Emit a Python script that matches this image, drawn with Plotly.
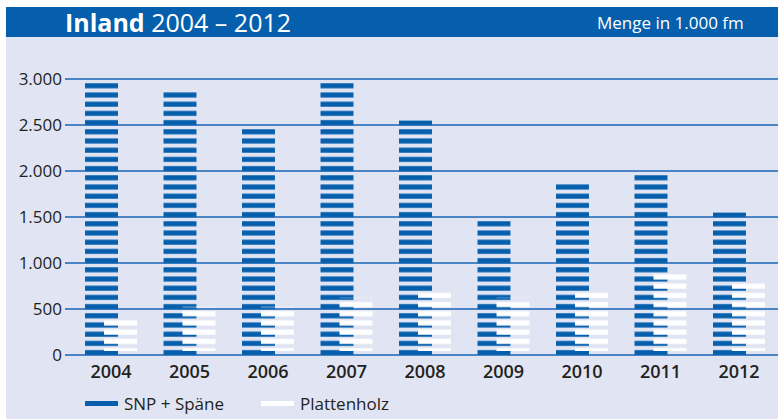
import plotly.graph_objects as go

years = ["2004", "2005", "2006", "2007", "2008", "2009", "2010", "2011", "2012"]
snp_spaene = [2960, 2860, 2460, 2960, 2550, 1460, 1860, 1960, 1550]
plattenholz = [370, 480, 480, 580, 670, 580, 670, 860, 750]
series_names = ["SNP + Späne", "Plattenholz"]
y_tickvals = [0, 500, 1000, 1500, 2000, 2500, 3000]
y_ticktext = ["0", "500", "1.000", "1.500", "2.000", "2.500", "3.000"]

BLUE = "#065fac"
BG = "#e1e5f3"
GRID = "#4a84c4"
TXT = "#231f20"
FONT = "Open Sans"
CLEAR = "rgba(0,0,0,0)"

W, H = 778, 419
ML, MR, MT, MB = 65, 0, 70, 64
PW, PH = W - ML - MR, H - MT - MB  # 713 x 285
SCALE = 0.092  # px per unit
SHIFT = 2      # px shift of white stripe phase


def px(x):
    return (x - ML) / PW


def py(y):
    return (H - MB - y) / PH


y_top = (PH - SHIFT) / SCALE

fig = go.Figure()
fig.add_trace(go.Bar(
    x=years, y=snp_spaene, name=series_names[0],
    width=0.42, offset=-0.331, xaxis="x", yaxis="y",
    marker=dict(color=CLEAR, line=dict(width=0),
                pattern=dict(shape="-", size=9.2, solidity=0.55, fgcolor=BLUE,
                             bgcolor=CLEAR, fillmode="replace")),
    showlegend=False,
))
fig.add_trace(go.Bar(
    x=years, y=plattenholz, name=series_names[1],
    width=0.42, offset=-0.089, xaxis="x", yaxis="y2", cliponaxis=False,
    marker=dict(color=CLEAR, line=dict(width=0),
                pattern=dict(shape="-", size=9.2, solidity=0.55, fgcolor="white",
                             bgcolor=CLEAR, fillmode="replace")),
    showlegend=False,
))

shapes = [
    dict(type="rect", xref="paper", yref="paper", x0=px(6), x1=px(778), y0=py(419), y1=py(37),
         fillcolor=BG, line=dict(width=0), layer="below"),
    dict(type="rect", xref="paper", yref="paper", x0=px(6), x1=px(778), y0=py(37), y1=py(7),
         fillcolor=BLUE, line=dict(width=0), layer="below"),
    dict(type="rect", xref="paper", yref="paper", x0=px(85), x1=px(118),
         y0=py(406), y1=py(401), fillcolor=BLUE, line=dict(width=0)),
    dict(type="rect", xref="paper", yref="paper", x0=px(261), x1=px(294),
         y0=py(406), y1=py(401), fillcolor="white", line=dict(width=0)),
]

annotations = [
    dict(text="<b>Inland</b> 2004 – 2012", xref="paper", yref="paper",
         x=px(63), y=py(22), xanchor="left", yanchor="middle",
         showarrow=False, font=dict(family=FONT, size=25, color="white")),
    dict(text="Menge in 1.000 fm", xref="paper", yref="paper",
         x=px(746), y=py(23), xanchor="right", yanchor="middle",
         showarrow=False, font=dict(family=FONT, size=17, color="white")),
    dict(text=series_names[0], xref="paper", yref="paper",
         x=px(122), y=py(403), xanchor="left", yanchor="middle",
         showarrow=False, font=dict(family=FONT, size=17, color=TXT)),
    dict(text=series_names[1], xref="paper", yref="paper",
         x=px(298), y=py(403), xanchor="left", yanchor="middle",
         showarrow=False, font=dict(family=FONT, size=17, color=TXT)),
]

fig.update_layout(
    width=W, height=H,
    margin=dict(l=ML, r=MR, t=MT, b=MB),
    paper_bgcolor="white", plot_bgcolor=CLEAR,
    barmode="overlay",
    shapes=shapes, annotations=annotations,
    xaxis=dict(range=[-0.586, 8.497], showgrid=False, zeroline=False, showline=False,
               ticks="", ticklabelstandoff=4, anchor="y",
               tickfont=dict(family=FONT, size=18, color=TXT, weight=600)),
    yaxis=dict(domain=[0, (PH - SHIFT) / PH], range=[0, y_top],
               tickvals=y_tickvals, ticktext=y_ticktext,
               showgrid=True, gridcolor=GRID, gridwidth=2,
               zeroline=True, zerolinecolor=GRID, zerolinewidth=2,
               showline=False, ticks="", ticklabelstandoff=2,
               tickfont=dict(family=FONT, size=17, color=TXT)),
    yaxis2=dict(domain=[SHIFT / PH, 1], range=[-SHIFT / SCALE, y_top - SHIFT / SCALE],
                anchor="x", visible=False, showgrid=False, zeroline=False),
)

fig.write_html("out.html")
